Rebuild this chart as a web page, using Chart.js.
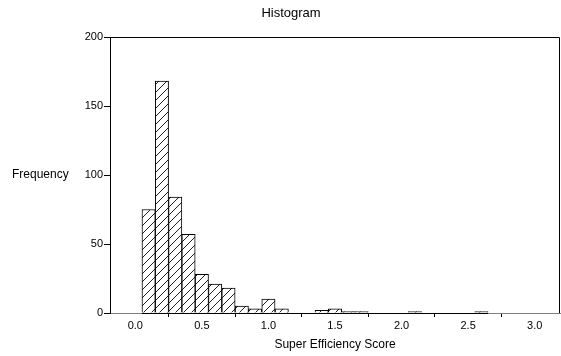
<!DOCTYPE html>
<html>
<head>
<meta charset="utf-8">
<title>Histogram</title>
<script src="https://cdn.jsdelivr.net/npm/chart.js@4.4.1/dist/chart.umd.min.js"></script>
<style>
  html, body { margin: 0; padding: 0; background: #ffffff; }
  canvas { display: block; }
</style>
</head>
<body>
<canvas id="c" width="561" height="356"></canvas>
<script>
// Histogram bins: centre of each bin and its count
const binWidth = 0.1;
const binCenters = [0.1, 0.2, 0.3, 0.4, 0.5, 0.6, 0.7, 0.8, 0.9, 1.0,
                    1.1, 1.2, 1.3, 1.4, 1.5, 1.6, 1.7, 1.8, 1.9, 2.0,
                    2.1, 2.2, 2.3, 2.4, 2.5, 2.6];
const frequencies = [75, 168, 84, 57, 28, 21, 18, 5, 3, 10,
                     3, 0, 0, 2, 3, 1, 1, 0, 0, 0,
                     1, 0, 0, 0, 0, 1];

// Axis ticks
const xTickValues = [0.0, 0.5, 1.0, 1.5, 2.0, 2.5, 3.0];
const yTickValues = [0, 50, 100, 150, 200];

const chartTitle = 'Histogram';
const xTitle = 'Super Efficiency Score';
const yTitle = 'Frequency';

const FONT = "'Liberation Sans', Arial, sans-serif";
Chart.defaults.font.family = FONT;
Chart.defaults.color = '#000000';

const canvas = document.getElementById('c');
const ctx = canvas.getContext('2d');

// Diagonal "/" hatch fill for the bars
function makeHatch() {
  const size = 8;
  const tile = document.createElement('canvas');
  tile.width = size; tile.height = size;
  const g = tile.getContext('2d');
  g.fillStyle = '#ffffff';
  g.fillRect(0, 0, size, size);
  g.strokeStyle = '#222222';
  g.lineWidth = 1;
  g.beginPath();
  g.moveTo(0, size); g.lineTo(size, 0);
  g.moveTo(-1, 1); g.lineTo(1, -1);
  g.moveTo(size - 1, size + 1); g.lineTo(size + 1, size - 1);
  g.stroke();
  return ctx.createPattern(tile, 'repeat');
}

// Frame, baseline under the binned range, and the side labels
const decorations = {
  id: 'decorations',
  afterDatasetsDraw(chart) {
    const { ctx, chartArea: a, scales: { x, y } } = chart;
    ctx.save();
    // baseline across all bins (including empty ones)
    const y0 = Math.round(y.getPixelForValue(0)) + 0.5;
    ctx.strokeStyle = '#000000';
    ctx.lineWidth = 1;
    ctx.beginPath();
    ctx.moveTo(x.getPixelForValue(binCenters[0] - binWidth / 2), y0);
    ctx.lineTo(x.getPixelForValue(binCenters[binCenters.length - 1] + binWidth / 2), y0);
    ctx.stroke();
    // top and right edges of the plot frame
    ctx.beginPath();
    ctx.moveTo(Math.round(a.left) + 0.5, Math.round(a.top) + 0.5);
    ctx.lineTo(Math.round(a.right) - 0.5, Math.round(a.top) + 0.5);
    ctx.lineTo(Math.round(a.right) - 0.5, Math.round(a.bottom));
    ctx.stroke();
    ctx.restore();
  },
  afterDraw(chart) {
    const { ctx, chartArea: a } = chart;
    ctx.save();
    ctx.fillStyle = '#000000';
    ctx.font = '13px ' + FONT;
    ctx.textAlign = 'center';
    ctx.textBaseline = 'middle';
    ctx.fillText(chartTitle, 291, 13);
    ctx.font = '12px ' + FONT;
    ctx.textAlign = 'left';
    ctx.fillText(yTitle, 12, (a.top + a.bottom) / 2);
    ctx.restore();
  }
};

new Chart(ctx, {
  type: 'bar',
  data: {
    datasets: [{
      data: binCenters.map((c, i) => ({ x: c, y: frequencies[i] })),
      backgroundColor: makeHatch(),
      borderColor: '#000000',
      borderWidth: 1,
      borderSkipped: 'start',
      barPercentage: 1.0,
      categoryPercentage: 1.0
    }]
  },
  options: {
    responsive: false,
    animation: false,
    devicePixelRatio: 1,
    layout: { padding: { top: 37, right: 1, left: 0, bottom: 0 } },
    plugins: {
      legend: { display: false },
      tooltip: { enabled: false },
      title: { display: false }
    },
    scales: {
      x: {
        type: 'linear',
        offset: false,
        min: -0.19,
        max: 3.19,
        afterBuildTicks(scale) { scale.ticks = xTickValues.map(v => ({ value: v })); },
        afterFit(scale) { scale.height = 43; },
        ticks: {
          autoSkip: false,
          maxRotation: 0,
          padding: 2,
          font: { size: 11 },
          color: '#000000',
          callback: v => Number(v).toFixed(1)
        },
        grid: {
          drawOnChartArea: false,
          drawTicks: true,
          tickLength: 4,
          tickColor: '#000000'
        },
        border: { display: true, color: '#808080', width: 1 },
        title: {
          display: true,
          text: xTitle,
          font: { size: 12 },
          color: '#000000',
          padding: { top: 2, bottom: 4 }
        }
      },
      y: {
        type: 'linear',
        min: 0,
        max: 200,
        afterBuildTicks(scale) { scale.ticks = yTickValues.map(v => ({ value: v })); },
        afterFit(scale) { scale.width = 110; },
        ticks: {
          padding: 1,
          font: { size: 11 },
          color: '#000000'
        },
        grid: {
          drawOnChartArea: false,
          drawTicks: true,
          tickLength: 6,
          tickColor: '#000000'
        },
        border: { display: true, color: '#000000', width: 1 }
      }
    }
  },
  plugins: [decorations]
});
</script>
</body>
</html>
